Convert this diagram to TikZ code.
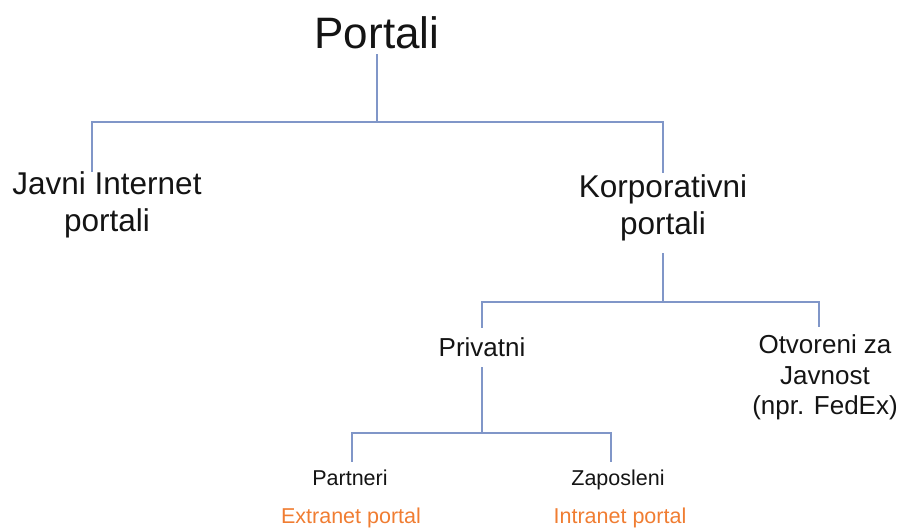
\documentclass[tikz,border=0pt]{standalone}
\usepackage{fontspec}
\setmainfont{Liberation Sans}
\definecolor{conncol}{RGB}{128,150,200}
\definecolor{orangetxt}{RGB}{240,125,50}
\tikzset{
  conn/.style={draw=conncol, line width=1.2pt},
  lbl/.style={inner sep=0pt, outer sep=0pt, align=center, text=black!92},
  big/.style={lbl, font=\fontsize{44}{50}\selectfont},
  lvtwo/.style={lbl, font=\fontsize{31.5}{37}\selectfont},
  lvthree/.style={lbl, font=\fontsize{26}{30.5}\selectfont},
  lvfour/.style={lbl, font=\fontsize{21.5}{26}\selectfont},
  note/.style={lvfour, text=orangetxt}
}
\begin{document}
\begin{tikzpicture}[x=1pt, y=-1pt]
\useasboundingbox (0,0) rectangle (901,528);
% nodes
\node[big, anchor=base] (portali) at (377,48) {Portali};
\node[lvtwo, anchor=north] (javni) at (107,172) {Javni Internet\\portali};
\node[lvtwo, anchor=north] (korp) at (663,175) {Korporativni\\portali};
\node[lvthree, anchor=base] (priv) at (482,356) {Privatni};
\node[lvthree, anchor=north] (otv) at (825,335) {Otvoreni za\\Javnost\\(npr. FedEx)};
\node[lvfour, anchor=base] (part) at (350,485) {Partneri};
\node[lvfour, anchor=base] (zap) at (618,485) {Zaposleni};
\node[note, anchor=base] (extr) at (351,523) {Extranet portal};
\node[note, anchor=base] (intr) at (620,523) {Intranet portal};
% junctions
\coordinate (b1) at (377,122);
\coordinate (b2) at (663,302);
\coordinate (b3) at (482,433);
% connectors
\draw[conn] ([yshift=-6pt]portali.south) -- (b1);
\draw[conn] (b1) -| ([xshift=-15pt]javni.north);
\draw[conn] (b1) -| ([yshift=2pt]korp.north);
\draw[conn] ([yshift=-12pt]korp.south) -- (b2);
\draw[conn] (b2) -| ([yshift=9pt]priv.north);
\draw[conn] (b2) -| ([xshift=-6pt,yshift=8pt]otv.north);
\draw[conn] ([yshift=-11pt]priv.south) -- (b3);
\draw[conn] (b3) -| ([xshift=2pt,yshift=7pt]part.north);
\draw[conn] (b3) -| ([xshift=-7pt,yshift=7pt]zap.north);
\end{tikzpicture}
\end{document}
